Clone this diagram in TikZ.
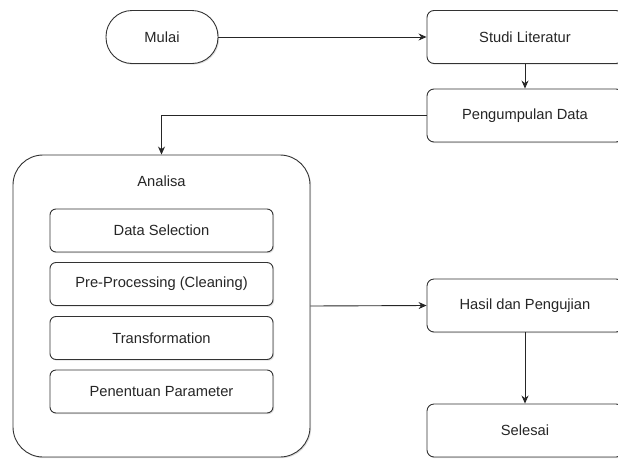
\documentclass[tikz,border=0pt]{standalone}
\usepackage{fontspec}
\setmainfont{Liberation Sans}
\usetikzlibrary{arrows.meta,shadows}
\tikzset{
  box/.style={draw=black!80, line width=0.9pt, fill=white, rounded corners=7pt,
    drop shadow={shadow xshift=1.2pt, shadow yshift=-1.2pt, opacity=0.25},
    minimum width=196pt, minimum height=53pt, inner sep=0pt, text=black!85,
    font=\fontsize{14.7}{17}\selectfont},
  inbox/.style={box, minimum width=223pt, minimum height=43pt, rounded corners=6pt},
  link/.style={draw=black!85, line width=0.9pt, -{Stealth[length=8pt,width=7pt]}}
}
\begin{document}
\begin{tikzpicture}[x=1pt,y=-1pt]
	\useasboundingbox (0,0) rectangle (618,461);
	\clip (0,0) rectangle (618,461);
	% start and main steps
	\node [box, minimum width=112pt, rounded corners=26pt] (mulai) at (162,37) {Mulai};
	\node [box] (studi) at (525,37) {Studi Literatur};
	\node [box] (kumpul) at (525,115.5) {Pengumpulan Data};
	% analisa block
	\node [box, minimum width=297pt, minimum height=302pt, rounded corners=30pt] (analisa) at (161.5,306) {};
	\node [text=black!85, font=\fontsize{14.7}{17}\selectfont] (judul) at (161.5,181) {Analisa};
	\node [inbox] (seleksi) at (161.5,230.5) {Data Selection};
	\node [inbox] (prapros) at (161.5,284) {Pre-Processing (Cleaning)};
	\node [inbox] (transf) at (161.5,338) {Transformation};
	\node [inbox] (param) at (161.5,391.5) {Penentuan Parameter};
	% results
	\node [box] (hasil) at (525,305.5) {Hasil dan Pengujian};
	\node [box] (selesai) at (525,430.5) {Selesai};
	% connectors
	\draw [link] (mulai) -- (studi);
	\draw [link] (studi) -- (kumpul);
	\draw [link] (kumpul.west) -| (analisa.north);
	\draw [link] (analisa.east) -- (hasil.west);
	\draw [link] (hasil) -- (selesai);
\end{tikzpicture}
\end{document}
